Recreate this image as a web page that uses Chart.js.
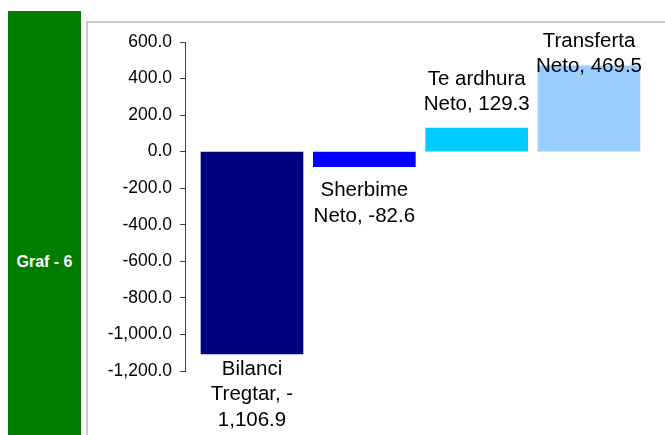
<!DOCTYPE html>
<html>
<head>
<meta charset="utf-8">
<script src="https://cdn.jsdelivr.net/npm/chart.js@4"></script>
<style>
    html, body { margin: 0; padding: 0; background: #fff; }
    #wrap { position: relative; width: 665px; height: 435px; overflow: hidden; }
    #panel {
        position: absolute; left: 8px; top: 11px; width: 73px; height: 430px;
        background: #007d00; color: #fff;
        font: bold 16px "Liberation Sans", Arial, sans-serif;
    }
    #panel span { position: absolute; left: 0; width: 73px; top: 242px; text-align: center; }
    #frame {
        position: absolute; left: 86px; top: 21px; width: 600px; height: 430px;
        border-left: 2px solid #c8c8c8; border-top: 2px solid #c8c8c8;
    }
    #chartBilanci { position: absolute; left: 0; top: 0; }
</style>
</head>
<body>
<div id="wrap">
    <div id="panel"><span>Graf - 6</span></div>
    <div id="frame"></div>
    <canvas id="chartBilanci" width="665" height="435"></canvas>
</div>
<script>
const categories = ["Bilanci Tregtar", "Sherbime Neto", "Te ardhura Neto", "Transferta Neto"];
const values = [-1106.9, -82.6, 129.3, 469.5];
const colors = ['#000080', '#0000ff', '#00ccff', '#99ccff'];
const yTicks = [600, 400, 200, 0, -200, -400, -600, -800, -1000, -1200];

// etiketat ashtu si i mbeshtjell Excel
const labelLines = [
    ["Bilanci", "Tregtar, -", "1,106.9"],
    ["Sherbime", "Neto, -82.6"],
    ["Te ardhura", "Neto, 129.3"],
    ["Transferta", "Neto, 469.5"]
];
// zhvendosja e rreshtit te pare nga fundi i shtylles (px)
const labelOffsets = [15, 24, -49, -25];

function fmt(v) {
    return v.toLocaleString('en-US', { minimumFractionDigits: 1, maximumFractionDigits: 1 });
}

const etiketat = {
    id: 'etiketat',
    afterDatasetsDraw(chart) {
        const ctx = chart.ctx;
        const meta = chart.getDatasetMeta(0);
        ctx.save();
        ctx.font = '20.5px "Liberation Sans", Arial, sans-serif';
        ctx.fillStyle = '#000';
        ctx.textAlign = 'center';
        ctx.textBaseline = 'middle';
        meta.data.forEach((bar, i) => {
            labelLines[i].forEach((line, j) => {
                ctx.fillText(line, bar.x, bar.y + labelOffsets[i] + j * 25.8);
            });
        });
        ctx.restore();
    }
};

const data = {
    datasets: [{
        label: 'Bilanci',
        data: values.map((v, i) => ({ x: i, y: v })),
        backgroundColor: colors,
        borderWidth: 0,
        barThickness: 102
    }]
};

const config = {
    type: 'bar',
    data: data,
    options: {
        responsive: false,
        animation: false,
        events: [],
        layout: { padding: { top: 42, bottom: 64, right: 5, left: 0 } },
        plugins: {
            legend: { display: false },
            tooltip: { enabled: false }
        },
        scales: {
            x: {
                type: 'linear',
                display: false,
                offset: false,
                min: -0.5964,
                max: 3.632
            },
            y: {
                min: -1200,
                max: 600,
                afterFit: (scale) => { scale.width = 185; },
                afterBuildTicks: (scale) => { scale.ticks = yTicks.map((v) => ({ value: v })); },
                border: { display: true, color: '#404040', width: 1 },
                grid: { drawOnChartArea: false, drawTicks: true, tickLength: 5, color: '#404040' },
                ticks: {
                    padding: 8,
                    color: '#000',
                    font: { family: '"Liberation Sans", Arial, sans-serif', size: 17.5 },
                    callback: (v) => fmt(v)
                }
            }
        }
    },
    plugins: [etiketat]
};

const canvasBilanci = document.getElementById("chartBilanci");
const graficoBilanci = new Chart(canvasBilanci, config);
</script>
</body>
</html>
